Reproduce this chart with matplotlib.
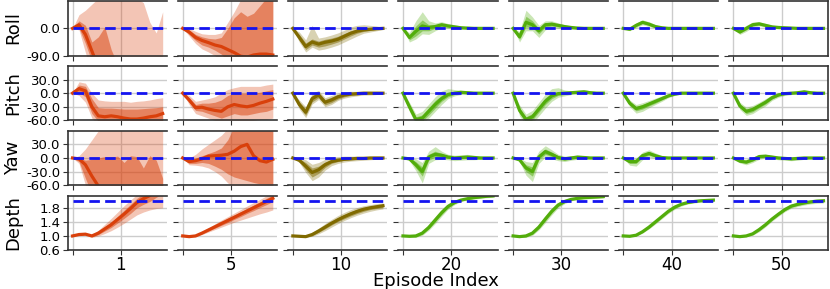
import matplotlib
matplotlib.use("Agg")
import matplotlib.pyplot as plt
from matplotlib.ticker import FormatStrFormatter

plt.rcParams["axes.unicode_minus"] = False

episodes = [1, 5, 10, 20, 30, 40, 50]
steps = [0, 2, 4, 6, 8, 10, 12, 14, 16, 18, 20, 22, 24, 26, 28]
row_names = ["Roll", "Pitch", "Yaw", "Depth"]
targets = [0.0, 0.0, 0.0, 2.0]
y_limits = [(-90, 90), (-60, 60), (-60, 60), (0.6, 2.15)]
y_ticks = [[-90, 0], [-60, -30, 0, 30], [-60, -30, 0, 30], [0.6, 1.0, 1.4, 1.8]]

# ---- roll (deg), one list per episode ----
roll_med = [
    [0, 12, -20, -75, -130, -160, -180, -190, -200, -200, -200, -200, -200, -200, -200],
    [0, -12, -30, -40, -47, -55, -60, -70, -80, -92, -95, -88, -85, -85, -88],
    [0, -30, -60, -45, -52, -46, -42, -36, -26, -16, -9, -5, -3, -1, 0],
    [0, -30, -10, 8, 3, 6, 12, 8, 5, 2, 1, 0, 0, 0, 0],
    [0, -28, 20, 12, -8, 12, 14, 10, 6, 3, 1, 0, 0, 0, 0],
    [0, -3, 10, 20, 14, 6, 2, 0, 0, 0, 0, 0, 0, 0, 0],
    [0, -12, 0, 12, 15, 10, 5, 3, 2, 1, 0, 0, 0, 0, 0],
]
roll_lo1 = [
    [0, 0, -50, -110, -170, -200, -200, -200, -200, -200, -200, -200, -200, -200, -200],
    [0, -20, -40, -55, -62, -72, -85, -110, -130, -140, -140, -140, -140, -140, -140],
    [0, -38, -70, -55, -62, -58, -52, -45, -35, -25, -16, -10, -7, -4, -2],
    [0, -38, -25, -8, -8, 0, 7, 4, 2, 0, -1, -1, -1, -1, 0],
    [0, -36, 5, 2, -18, 4, 8, 5, 2, 0, -1, -1, -1, -1, 0],
    [0, -6, 6, 16, 10, 3, 0, -1, -1, -1, -1, 0, 0, 0, 0],
    [0, -16, -5, 8, 11, 7, 3, 1, 0, 0, -1, -1, 0, 0, 0],
]
roll_hi1 = [
    [0, 25, 10, -45, -28, 5, -70, -120, -140, -150, -150, -150, -150, -150, -150],
    [0, -5, -20, -28, -33, -35, -30, 0, 35, 55, 40, 50, 75, 100, 100],
    [0, -20, -48, -35, -42, -36, -32, -26, -17, -8, -2, 2, 3, 3, 2],
    [0, -22, 8, 28, 12, 12, 17, 12, 8, 5, 3, 2, 1, 1, 0],
    [0, -18, 40, 25, 0, 18, 20, 14, 9, 5, 3, 2, 1, 1, 0],
    [0, 0, 14, 24, 18, 9, 4, 1, 1, 1, 1, 0, 0, 0, 0],
    [0, -8, 5, 17, 19, 13, 7, 5, 3, 2, 1, 1, 0, 0, 0],
]
roll_lo2 = [
    [0, -5, -80, -150, -200, -200, -200, -200, -200, -200, -200, -200, -200, -200, -200],
    [0, -25, -50, -68, -78, -90, -110, -140, -160, -160, -160, -160, -160, -160, -160],
    [0, -45, -78, -62, -72, -68, -62, -55, -45, -35, -25, -16, -12, -8, -4],
    [0, -45, -35, -18, -20, -8, 2, 0, -2, -3, -3, -2, -2, -1, -1],
    [0, -45, -8, -8, -30, -5, 2, 0, -2, -3, -3, -2, -2, -1, -1],
    [0, -8, 2, 12, 6, 0, -2, -3, -2, -2, -1, -1, -1, -1, -1],
    [0, -20, -10, 4, 8, 4, 0, -1, -2, -2, -2, -1, -1, -1, -1],
]
roll_hi2 = [
    [0, 45, 60, 80, 100, 100, 100, 100, 100, 100, 100, 85, 20, -15, 55],
    [0, 0, -10, -18, -20, -20, -15, 20, 55, 95, 100, 100, 100, 100, 100],
    [0, -12, -38, 10, -32, -28, -22, -15, -6, 5, 10, 12, 10, 8, 4],
    [0, -14, 25, 55, 25, 18, 22, 16, 12, 8, 5, 4, 3, 2, 1],
    [0, -10, 60, 38, 10, 25, 25, 18, 12, 8, 5, 3, 2, 2, 1],
    [0, 2, 18, 28, 22, 12, 6, 3, 2, 2, 1, 1, 1, 1, 1],
    [0, -5, 10, 21, 22, 16, 10, 7, 5, 3, 2, 1, 1, 1, 1],
]

# ---- pitch (deg) ----
pitch_med = [
    [0, 10, 5, -30, -50, -52, -50, -52, -55, -57, -57, -55, -52, -50, -45],
    [0, -15, -32, -31, -35, -38, -40, -30, -25, -28, -30, -27, -22, -18, -13],
    [0, -25, -42, -12, -4, -20, -15, -8, -4, -2, -1, 0, 0, 0, 0],
    [0, -30, -58, -55, -40, -25, -12, -3, 0, 2, 1, 0, 0, 0, 0],
    [0, -38, -58, -52, -35, -18, -6, -1, 0, 1, 2, 3, 1, 0, 0],
    [0, -22, -34, -30, -24, -18, -12, -6, -2, 0, 0, 0, 0, 0, 0],
    [0, -28, -40, -36, -28, -20, -10, -4, -1, 0, 1, 3, 1, 0, 0],
]
pitch_lo1 = [
    [0, 2, -8, -45, -62, -65, -65, -68, -68, -68, -68, -66, -64, -62, -60],
    [0, -20, -38, -40, -45, -50, -55, -50, -45, -48, -48, -45, -42, -40, -35],
    [0, -31, -49, -19, -10, -26, -21, -13, -8, -5, -4, -2, -2, -2, -1],
    [0, -35, -64, -62, -48, -33, -18, -8, -3, 0, -1, -1, -1, -1, 0],
    [0, -44, -64, -59, -42, -25, -12, -5, -3, -1, 0, 1, -1, -1, -1],
    [0, -26, -39, -35, -28, -22, -15, -8, -4, -1, -1, -1, -1, -1, 0],
    [0, -32, -45, -41, -32, -24, -13, -6, -3, -2, -1, 1, -1, -1, 0],
]
pitch_hi1 = [
    [0, 18, 15, -12, -32, -33, -33, -34, -35, -35, -35, -34, -33, -32, -30],
    [0, -10, -25, -22, -22, -20, -15, -5, 0, 0, 0, 0, 2, 5, 8],
    [0, -19, -35, -5, 2, -14, -9, -3, 0, 1, 2, 2, 2, 2, 1],
    [0, -25, -52, -48, -32, -16, -5, 2, 4, 4, 3, 2, 1, 1, 0],
    [0, -32, -52, -45, -28, -10, 0, 3, 3, 3, 4, 5, 3, 2, 1],
    [0, -18, -29, -25, -20, -14, -9, -4, 0, 1, 1, 1, 1, 1, 0],
    [0, -24, -35, -31, -24, -16, -7, -2, 1, 2, 3, 5, 3, 1, 0],
]
pitch_lo2 = [
    [0, -5, -20, -55, -70, -75, -75, -78, -78, -78, -78, -75, -72, -70, -70],
    [0, -25, -45, -50, -55, -60, -65, -65, -60, -62, -62, -60, -58, -58, -55],
    [0, -35, -54, -24, -14, -30, -25, -16, -11, -8, -6, -4, -4, -3, -2],
    [0, -40, -70, -68, -55, -40, -25, -12, -6, -3, -3, -2, -2, -1, -1],
    [0, -50, -70, -66, -50, -33, -18, -9, -6, -3, -2, -2, -3, -2, -2],
    [0, -30, -44, -40, -32, -25, -18, -10, -5, -2, -2, -1, -1, -1, -1],
    [0, -36, -49, -45, -36, -28, -16, -9, -5, -3, -2, -1, -2, -1, -1],
]
pitch_hi2 = [
    [0, 25, 22, 0, -15, -17, -18, -18, -18, -20, -18, -17, -15, -12, -10],
    [0, -5, -18, -15, -12, -8, 0, 8, 12, 15, 15, 15, 15, 18, 20],
    [0, -15, -30, 0, 6, -10, -5, 0, 3, 4, 4, 4, 4, 3, 2],
    [0, -20, -46, -40, -24, -8, 5, 10, 8, 6, 5, 4, 3, 2, 1],
    [0, -26, -46, -38, -20, -2, 10, 12, 7, 5, 6, 8, 5, 3, 2],
    [0, -15, -25, -21, -16, -11, -6, -2, 1, 2, 2, 1, 1, 1, 1],
    [0, -20, -31, -27, -20, -12, -4, 1, 3, 3, 4, 7, 4, 2, 1],
]

# ---- yaw (deg) ----
yaw_med = [
    [0, -2, -15, -40, -62, -80, -100, -120, -130, -140, -150, -150, -150, -150, -150],
    [0, -8, -6, -2, 4, 5, 6, 8, 15, 25, 30, 5, -6, -9, -3],
    [0, -5, -18, -32, -26, -15, -8, -5, -3, -2, -1, -1, 0, 0, 0],
    [0, -2, -15, -30, 2, 8, 6, 2, 0, 1, 2, 1, 0, 0, 0],
    [0, -4, -22, -30, 2, 14, 8, 1, -2, 0, 2, 1, 0, 0, 0],
    [0, -8, -8, 5, 10, 5, 1, 0, 0, 0, 0, 0, 0, 0, 0],
    [0, -7, -9, -4, 3, 4, 2, 0, -1, -2, -1, 0, 0, 0, 0],
]
yaw_lo1 = [
    [0, -8, -45, -80, -110, -150, -150, -150, -150, -150, -150, -150, -150, -150, -150],
    [0, -12, -12, -10, -12, -18, -25, -35, -42, -46, -50, -54, -57, -58, -58],
    [0, -8, -26, -42, -34, -21, -12, -8, -5, -4, -3, -3, -2, -1, -1],
    [0, -4, -22, -40, -5, 2, 2, -1, -3, -2, -1, -2, -2, -1, -1],
    [0, -6, -30, -40, -4, 8, 3, -3, -5, -3, -1, -1, -1, -1, -1],
    [0, -12, -12, 1, 6, 2, -1, -1, -1, -1, -1, 0, 0, 0, 0],
    [0, -9, -12, -7, 0, 2, 0, -2, -3, -4, -3, -1, 0, 0, 0],
]
yaw_hi1 = [
    [0, 0, -5, -3, 0, 3, 2, 4, -10, 5, 3, -22, 5, -5, -45],
    [0, -3, 0, 5, 10, 15, 22, 40, 70, 75, 75, 75, 75, 75, 75],
    [0, -2, -10, -22, -18, -9, -4, -2, -1, 0, 1, 1, 1, 1, 1],
    [0, 0, -8, -20, 8, 15, 10, 5, 3, 4, 5, 4, 2, 1, 1],
    [0, -2, -15, -20, 8, 20, 13, 5, 1, 2, 4, 3, 2, 1, 1],
    [0, -5, -4, 9, 14, 8, 3, 1, 1, 1, 1, 0, 0, 0, 0],
    [0, -5, -6, -1, 6, 6, 4, 2, 1, 0, 1, 1, 0, 0, 0],
]
yaw_lo2 = [
    [0, -12, -60, -100, -150, -150, -150, -150, -150, -150, -150, -150, -150, -150, -150],
    [0, -15, -16, -18, -22, -30, -40, -55, -65, -70, -75, -80, -80, -80, -80],
    [0, -10, -32, -50, -42, -27, -17, -12, -9, -7, -6, -5, -4, -3, -2],
    [0, -6, -28, -55, -12, -4, -3, -4, -6, -5, -4, -4, -3, -2, -1],
    [0, -8, -38, -52, -12, 2, -2, -6, -8, -5, -3, -3, -2, -2, -1],
    [0, -16, -18, -4, 2, -1, -3, -2, -2, -1, -1, -1, -1, -1, -1],
    [0, -11, -15, -10, -3, 0, -2, -4, -5, -6, -5, -3, -1, -1, -1],
]
yaw_hi2 = [
    [0, 5, 20, 40, 60, 80, 80, 80, 80, 80, 80, 80, 80, 80, 80],
    [0, 0, 8, 20, 30, 40, 50, 65, 80, 80, 80, 80, 80, 80, 80],
    [0, 0, -4, -14, -10, -3, 1, 3, 4, 4, 4, 4, 3, 3, 2],
    [0, 2, -2, -10, 15, 25, 15, 8, 6, 7, 8, 6, 4, 2, 1],
    [0, 0, -8, -10, 15, 27, 18, 8, 4, 5, 6, 5, 3, 2, 1],
    [0, -2, 0, 13, 18, 11, 5, 2, 2, 1, 1, 1, 1, 1, 1],
    [0, -3, -3, 2, 8, 8, 6, 4, 3, 2, 2, 2, 1, 1, 1],
]

# ---- depth (m) ----
depth_med = [
    [1.0, 1.04, 1.05, 1.0, 1.08, 1.2, 1.32, 1.47, 1.62, 1.78, 1.95, 2.06, 2.15, 2.3, 2.45],
    [1.0, 0.98, 1.0, 1.08, 1.17, 1.26, 1.35, 1.44, 1.53, 1.62, 1.71, 1.8, 1.89, 1.98, 2.07],
    [1.0, 0.99, 0.98, 1.04, 1.14, 1.25, 1.36, 1.46, 1.55, 1.63, 1.7, 1.76, 1.8, 1.83, 1.86],
    [1.0, 0.99, 1.0, 1.08, 1.24, 1.45, 1.66, 1.84, 1.95, 2.02, 2.06, 2.09, 2.11, 2.13, 2.14],
    [1.0, 0.98, 1.0, 1.08, 1.25, 1.48, 1.7, 1.88, 1.98, 2.04, 2.07, 2.09, 2.1, 2.11, 2.12],
    [1.0, 0.99, 1.02, 1.12, 1.25, 1.4, 1.55, 1.7, 1.82, 1.9, 1.95, 1.98, 2.0, 2.01, 2.02],
    [1.0, 0.98, 1.0, 1.06, 1.18, 1.32, 1.48, 1.62, 1.75, 1.85, 1.9, 1.94, 1.97, 1.99, 2.0],
]
depth_lo1 = [
    [1.0, 1.03, 1.04, 0.98, 1.04, 1.14, 1.24, 1.37, 1.5, 1.64, 1.8, 1.9, 1.98, 2.1, 2.2],
    [1.0, 0.98, 0.99, 1.06, 1.14, 1.22, 1.3, 1.38, 1.47, 1.55, 1.64, 1.72, 1.81, 1.89, 1.98],
    [1.0, 0.98, 0.97, 1.01, 1.1, 1.2, 1.31, 1.41, 1.49, 1.57, 1.64, 1.7, 1.75, 1.78, 1.81],
    [1.0, 0.98, 0.98, 1.05, 1.2, 1.4, 1.61, 1.8, 1.92, 2.0, 2.04, 2.07, 2.09, 2.11, 2.12],
    [1.0, 0.97, 0.98, 1.05, 1.21, 1.43, 1.65, 1.84, 1.95, 2.02, 2.05, 2.07, 2.08, 2.09, 2.1],
    [1.0, 0.98, 1.01, 1.1, 1.22, 1.37, 1.52, 1.67, 1.79, 1.88, 1.93, 1.96, 1.98, 1.99, 2.0],
    [1.0, 0.97, 0.99, 1.04, 1.15, 1.29, 1.45, 1.59, 1.72, 1.82, 1.87, 1.91, 1.94, 1.96, 1.97],
]
depth_hi1 = [
    [1.0, 1.05, 1.06, 1.02, 1.12, 1.26, 1.4, 1.56, 1.73, 1.9, 2.07, 2.2, 2.3, 2.45, 2.6],
    [1.0, 0.98, 1.01, 1.1, 1.2, 1.3, 1.4, 1.5, 1.59, 1.69, 1.78, 1.88, 1.97, 2.07, 2.16],
    [1.0, 1.0, 1.0, 1.07, 1.18, 1.3, 1.41, 1.52, 1.61, 1.69, 1.76, 1.81, 1.85, 1.88, 1.9],
    [1.0, 1.0, 1.02, 1.11, 1.28, 1.5, 1.71, 1.88, 1.98, 2.04, 2.08, 2.11, 2.13, 2.15, 2.16],
    [1.0, 0.99, 1.02, 1.11, 1.29, 1.53, 1.75, 1.92, 2.01, 2.06, 2.09, 2.11, 2.12, 2.13, 2.14],
    [1.0, 1.0, 1.03, 1.14, 1.28, 1.43, 1.58, 1.73, 1.85, 1.92, 1.97, 2.0, 2.02, 2.03, 2.04],
    [1.0, 0.99, 1.01, 1.08, 1.21, 1.35, 1.51, 1.65, 1.78, 1.88, 1.93, 1.97, 2.0, 2.02, 2.03],
]
depth_lo2 = [
    [1.0, 1.02, 1.03, 0.96, 1.0, 1.07, 1.15, 1.25, 1.36, 1.48, 1.6, 1.68, 1.74, 1.78, 1.8],
    [1.0, 0.97, 0.98, 1.04, 1.11, 1.18, 1.25, 1.32, 1.39, 1.45, 1.51, 1.57, 1.63, 1.68, 1.74],
    [1.0, 0.97, 0.96, 0.99, 1.06, 1.15, 1.25, 1.35, 1.44, 1.52, 1.59, 1.65, 1.7, 1.74, 1.77],
    [1.0, 0.97, 0.96, 1.02, 1.16, 1.35, 1.56, 1.76, 1.89, 1.98, 2.02, 2.05, 2.07, 2.09, 2.1],
    [1.0, 0.96, 0.96, 1.02, 1.17, 1.38, 1.6, 1.8, 1.92, 2.0, 2.03, 2.05, 2.06, 2.07, 2.08],
    [1.0, 0.98, 1.0, 1.08, 1.2, 1.34, 1.49, 1.64, 1.76, 1.85, 1.91, 1.94, 1.96, 1.97, 1.98],
    [1.0, 0.96, 0.98, 1.02, 1.12, 1.26, 1.42, 1.56, 1.69, 1.79, 1.84, 1.88, 1.91, 1.93, 1.94],
]
depth_hi2 = [
    [1.0, 1.06, 1.07, 1.04, 1.16, 1.33, 1.5, 1.68, 1.86, 2.02, 2.18, 2.3, 2.4, 2.55, 2.7],
    [1.0, 0.99, 1.02, 1.12, 1.23, 1.34, 1.45, 1.55, 1.65, 1.75, 1.85, 1.95, 2.04, 2.14, 2.23],
    [1.0, 1.01, 1.02, 1.1, 1.22, 1.35, 1.47, 1.58, 1.67, 1.75, 1.81, 1.86, 1.89, 1.92, 1.94],
    [1.0, 1.01, 1.04, 1.14, 1.32, 1.55, 1.76, 1.92, 2.01, 2.06, 2.1, 2.13, 2.15, 2.17, 2.18],
    [1.0, 1.0, 1.04, 1.14, 1.33, 1.58, 1.8, 1.96, 2.04, 2.08, 2.11, 2.13, 2.14, 2.15, 2.16],
    [1.0, 1.0, 1.04, 1.16, 1.3, 1.46, 1.61, 1.76, 1.87, 1.94, 1.99, 2.02, 2.04, 2.05, 2.06],
    [1.0, 1.0, 1.02, 1.1, 1.24, 1.38, 1.54, 1.68, 1.81, 1.91, 1.96, 2.0, 2.03, 2.05, 2.06],
]

row_data = [
    (roll_lo2, roll_lo1, roll_med, roll_hi1, roll_hi2),
    (pitch_lo2, pitch_lo1, pitch_med, pitch_hi1, pitch_hi2),
    (yaw_lo2, yaw_lo1, yaw_med, yaw_hi1, yaw_hi2),
    (depth_lo2, depth_lo1, depth_med, depth_hi1, depth_hi2),
]

ORANGE = "#d9400b"
OLIVE = "#806a00"
GREEN = "#52ad0b"
episode_colors = [ORANGE, ORANGE, OLIVE, GREEN, GREEN, GREEN, GREEN]
SPINE = "#333333"

fig, axes = plt.subplots(4, 7, figsize=(8.3, 2.89), dpi=100, sharey="row")
fig.subplots_adjust(left=0.082, right=0.9976, top=0.996, bottom=0.135,
                    wspace=0.111, hspace=0.19)

for r, name in enumerate(row_names):
    lo2, lo1, med, hi1, hi2 = row_data[r]
    for c, ep in enumerate(episodes):
        ax = axes[r, c]
        color = episode_colors[c]
        ax.fill_between(steps, lo2[c], hi2[c], color=color, alpha=0.3, lw=0)
        ax.fill_between(steps, lo1[c], hi1[c], color=color, alpha=0.5, lw=0)
        ax.plot(steps, med[c], color=color, lw=2.3)
        ax.plot([steps[0], steps[-1]], [targets[r], targets[r]], color="#1414f0",
                lw=2.0, ls="--", dashes=(3.8, 1.9))

        ax.set_ylim(*y_limits[r])
        ax.set_yticks(y_ticks[r])
        ax.yaxis.set_major_formatter(FormatStrFormatter("%.1f"))
        ax.set_xticks([0, 15])
        ax.set_xticklabels(["", str(ep)])
        ax.grid(True, color="#cccccc", lw=1.0)
        ax.set_axisbelow(True)

        for side in ["top", "bottom", "left", "right"]:
            ax.spines[side].set_color(SPINE)
            ax.spines[side].set_linewidth(1.2)
        ax.spines["left"].set_visible(c == 0)
        ax.spines["right"].set_visible(c == 6)

        ax.tick_params(axis="y", labelsize=9.5, color=SPINE, pad=2)
        ax.tick_params(axis="x", labelsize=12, color=SPINE, pad=0.5,
                       labelbottom=(r == 3))
        if c > 0:
            ax.tick_params(axis="y", labelleft=False)

    fig.text(0.016, 1 - (28 + r * 65) / 289, name, rotation=90,
             ha="center", va="center", fontsize=13)

fig.text(0.525, 0.028, "Episode Index", ha="center", va="center", fontsize=13)

fig.savefig("out.png", dpi=100)
